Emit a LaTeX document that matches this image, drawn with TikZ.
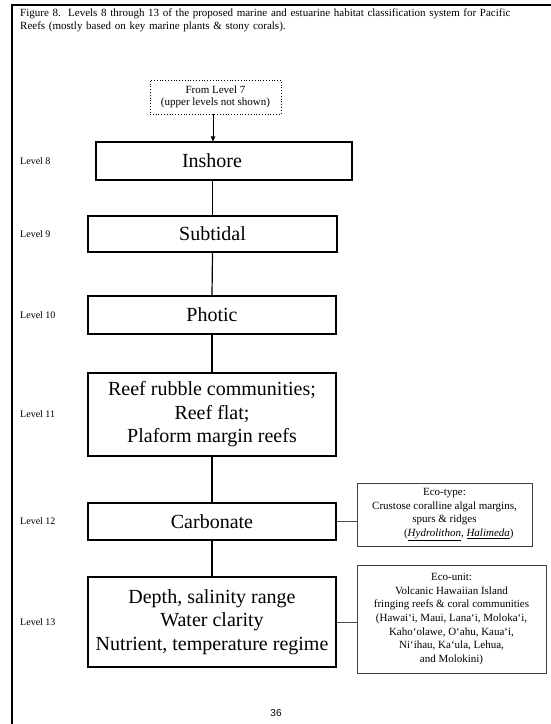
\documentclass[tikz,border=0pt]{standalone}
\usepackage{fontspec}
\setmainfont{Liberation Serif}
\newfontfamily\pagenumfont{Liberation Sans}
\usetikzlibrary{arrows.meta}
\begin{document}
\begin{tikzpicture}[x=1pt,y=-1pt,
  levelbox/.style={draw, line width=1.2pt, inner sep=0pt, align=center,
    font=\fontsize{20}{23.5}\selectfont},
  boxtext/.style={inner sep=0pt, font=\fontsize{20}{23.5}\selectfont},
  ecobox/.style={draw=black!75, line width=0.9pt, inner sep=0pt, align=center,
    font=\fontsize{11}{13.6}\selectfont},
  levellabel/.style={anchor=west, inner sep=0pt, font=\fontsize{10}{12}\selectfont},
  link/.style={line width=1.2pt},
  sidelink/.style={line width=0.8pt, draw=black!70}
]
\useasboundingbox (0,0) rectangle (551,724);

% page frame
\draw[line width=2pt] (12,724) -- (12,5) -- (551,5);

% caption
\node[anchor=north west, inner sep=0pt, align=left, text width=525pt,
      font=\fontsize{11}{12.5}\selectfont] (caption) at (20,9)
  {Figure 8.\ \ Levels 8 through 13 of the proposed marine and estuarine habitat classification system for Pacific\\
   Reefs (mostly based on key marine plants \& stony corals).};

% upper level pointer
\node[draw, dotted, line width=0.8pt, minimum width=131pt, minimum height=34pt,
      inner sep=0pt, align=center, font=\fontsize{11}{12.6}\selectfont]
  (from7) at (215.5,97) {From Level 7\\(upper levels not shown)};
\coordinate (arrowtop) at (213,114);

% level boxes
\node[levelbox, minimum width=256pt, minimum height=38pt] (inshore)   at (224,161)   {};
\node[boxtext] (inshoretext) at (212,161) {Inshore};
\node[levelbox, minimum width=249pt, minimum height=36pt] (subtidal)  at (212.5,234) {Subtidal};
\node[levelbox, minimum width=248pt, minimum height=38pt] (photic)    at (212,315)   {Photic};
\node[levelbox, minimum width=248pt, minimum height=83pt] (reef)      at (212,414.5)
  {Reef rubble communities;\\Reef flat;\\Plaform margin reefs};
\node[levelbox, minimum width=248pt, minimum height=37pt] (carbonate) at (212,521.5) {Carbonate};
\node[levelbox, minimum width=248pt, minimum height=90pt] (depth)     at (212,622)
  {Depth, salinity range\\Water clarity\\Nutrient, temperature regime};

% eco boxes
\node[ecobox, minimum width=175pt, minimum height=63pt] (ecotype) at (444.5,514.5)
  {Eco-type:\\Crustose coralline algal margins,\\spurs \& ridges\hspace*{2.2em}\\
   \hspace*{2.6em}(\underline{\textit{Hydrolithon}}, \underline{\textit{Halimeda}})};
\node[ecobox, minimum width=189pt, minimum height=108pt] (ecounit) at (451.5,619)
  {Eco-unit:\\Volcanic Hawaiian Island\\fringing reefs \& coral communities\\
   (Hawai‘i, Maui, Lana‘i, Moloka‘i,\\Kaho‘olawe, O‘ahu, Kaua‘i,\\
   Ni‘ihau, Ka‘ula, Lehua,\\and Molokini)};

% level labels
\node[levellabel] (l8)  at (20,161)   {Level 8};
\node[levellabel] (l9)  at (20,234)   {Level 9};
\node[levellabel] (l10) at (20,315)   {Level 10};
\node[levellabel] (l11) at (20,414.5) {Level 11};
\node[levellabel] (l12) at (20,521.5) {Level 12};
\node[levellabel] (l13) at (20,622)   {Level 13};

% connectors
\draw[line width=0.8pt, -{Triangle[length=5pt,width=4.5pt]}]
  (arrowtop) -- (arrowtop |- inshore.north);
\draw[link] (inshore.south -| subtidal.north) -- (subtidal.north);
\draw[link] (subtidal.south) -- (photic.north);
\draw[link] (photic.south) -- (reef.north);
\draw[link] (reef.south) -- (carbonate.north);
\draw[link] (carbonate.south) -- (depth.north);
\draw[sidelink] (carbonate.east) -- (carbonate.east -| ecotype.west);
\draw[sidelink] (depth.east) -- (depth.east -| ecounit.west);

% page number
\node[inner sep=0pt, font=\pagenumfont\fontsize{10}{12}\selectfont] (pagenum) at (276,713) {36};
\end{tikzpicture}
\end{document}
